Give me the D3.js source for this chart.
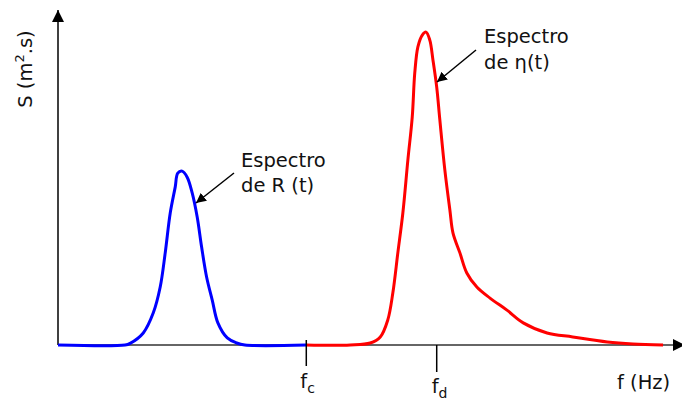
<!DOCTYPE html>
<html>
<head>
<meta charset="utf-8">
<script src="https://cdn.jsdelivr.net/npm/d3@7"></script>
<style>
  body { margin: 0; background: #fff; }
  text { font-family: "DejaVu Sans", Verdana, sans-serif; fill: #111; }
</style>
</head>
<body>
<svg id="chart" width="682" height="401"></svg>
<script>
// spectrum of R(t) - frequency (arbitrary units) and density
const freqR = [0, 10.7, 11.5, 13.6, 15.2, 16.3, 17.1, 17.9, 18.7, 19.1, 19.8, 20.6, 21.4, 22.2, 22.9, 23.7, 24.6, 25.5, 27.0, 28.5, 29.8, 39.6];
const specR = [0, 0, 0.5, 3.6, 9.6, 17.3, 27.5, 39.4, 47.2, 51.3, 51.9, 50.1, 45.4, 38.2, 29.3, 20.3, 13.4, 6.6, 2.1, 0.6, 0, 0];

// spectrum of eta(t)
const freqEta = [39.6, 46.6, 49.8, 51.4, 52.6, 53.4, 54.2, 55.0, 55.8, 56.5, 56.9, 57.4, 58.1, 58.7, 59.3, 59.8, 60.4, 60.9, 61.7, 62.5, 63.0, 64.1, 65.2, 66.8, 68.9, 71.6, 74.2, 78.0, 82.1, 87.6, 91.7, 96.5];
const specEta = [0, 0, 0.6, 2.4, 7.5, 15.5, 27.5, 39.4, 55.2, 68.1, 81.2, 89.0, 92.5, 93.4, 91.0, 85.1, 77.0, 67.2, 52.2, 40.3, 33.4, 27.5, 21.5, 17.3, 14.0, 10.4, 6.6, 3.6, 2.4, 0.9, 0.3, 0];

const fc = 39.6, fd = 60.4;

const svg = d3.select("#chart");

const x = d3.scaleLinear().domain([0, 100]).range([58, 685]);
const y = d3.scaleLinear().domain([0, 100]).range([345, 10]);

const line = d3.line()
    .x(d => x(d[0]))
    .y(d => Math.min(y(d[1]), y(0)))
    .curve(d3.curveCatmullRom.alpha(0.5));

// arrow marker
const defs = svg.append("defs");
defs.append("marker")
    .attr("id", "head")
    .attr("viewBox", "0 0 10 10")
    .attr("refX", 10).attr("refY", 5)
    .attr("markerWidth", 10).attr("markerHeight", 10)
    .attr("markerUnits", "userSpaceOnUse")
    .attr("orient", "auto")
    .append("path").attr("d", "M0,0 L10,5 L0,10 z").attr("fill", "#000");
defs.append("marker")
    .attr("id", "big")
    .attr("viewBox", "0 0 10 10")
    .attr("refX", 10).attr("refY", 5)
    .attr("markerWidth", 12).attr("markerHeight", 12)
    .attr("markerUnits", "userSpaceOnUse")
    .attr("orient", "auto")
    .append("path").attr("d", "M0,0 L10,5 L0,10 z").attr("fill", "#000");

// axes
svg.append("line")
    .attr("x1", x(0)).attr("y1", y(0))
    .attr("x2", x(0)).attr("y2", y(100))
    .attr("stroke", "#000").attr("stroke-width", 1.5)
    .attr("marker-end", "url(#big)");
svg.append("line")
    .attr("x1", x(0)).attr("y1", y(0))
    .attr("x2", x(100)).attr("y2", y(0))
    .attr("stroke", "#666").attr("stroke-width", 2)
    .attr("marker-end", "url(#big)");

// curves
svg.append("path")
    .datum(d3.zip(freqR, specR))
    .attr("d", line)
    .attr("fill", "none").attr("stroke", "#0000ff").attr("stroke-width", 3);
svg.append("path")
    .datum(d3.zip(freqEta, specEta))
    .attr("d", line)
    .attr("fill", "none").attr("stroke", "#ff0000").attr("stroke-width", 3);

// ticks fc / fd
svg.append("line")
    .attr("x1", x(fc)).attr("x2", x(fc))
    .attr("y1", y(0) - 5).attr("y2", y(0) + 21)
    .attr("stroke", "#000").attr("stroke-width", 1.5);
svg.append("line")
    .attr("x1", x(fd)).attr("x2", x(fd))
    .attr("y1", y(0)).attr("y2", y(0) + 27)
    .attr("stroke", "#000").attr("stroke-width", 1.5);

const fs = "19.5px";

const tc = svg.append("text").attr("x", x(fc) - 6).attr("y", 388).attr("font-size", fs);
tc.append("tspan").text("f");
tc.append("tspan").attr("font-size", "14px").attr("dy", 5).text("c");

const td = svg.append("text").attr("x", x(fd) - 5).attr("y", 393).attr("font-size", fs);
td.append("tspan").text("f");
td.append("tspan").attr("font-size", "14px").attr("dy", 5).text("d");

svg.append("text")
    .attr("x", 617).attr("y", 389)
    .attr("font-size", fs)
    .text("f (Hz)");

// y label
const yl = svg.append("text")
    .attr("transform", "translate(32, 69) rotate(-90)")
    .attr("text-anchor", "middle")
    .attr("font-size", fs);
yl.append("tspan").text("S (m");
yl.append("tspan").attr("font-size", "13px").attr("dy", -8).text("2");
yl.append("tspan").attr("dy", 8).text(".s)");

// annotations
svg.append("text").attr("x", 241).attr("y", 167).attr("font-size", fs).text("Espectro");
svg.append("text").attr("x", 241).attr("y", 192).attr("font-size", fs).text("de R (t)");
svg.append("line")
    .attr("x1", 234).attr("y1", 173).attr("x2", 196).attr("y2", 203)
    .attr("stroke", "#000").attr("stroke-width", 1.5)
    .attr("marker-end", "url(#head)");

svg.append("text").attr("x", 484).attr("y", 43).attr("font-size", fs).text("Espectro");
svg.append("text").attr("x", 484).attr("y", 69).attr("font-size", fs).text("de η(t)");
svg.append("line")
    .attr("x1", 476).attr("y1", 50).attr("x2", 437).attr("y2", 82)
    .attr("stroke", "#000").attr("stroke-width", 1.5)
    .attr("marker-end", "url(#head)");
</script>
</body>
</html>
